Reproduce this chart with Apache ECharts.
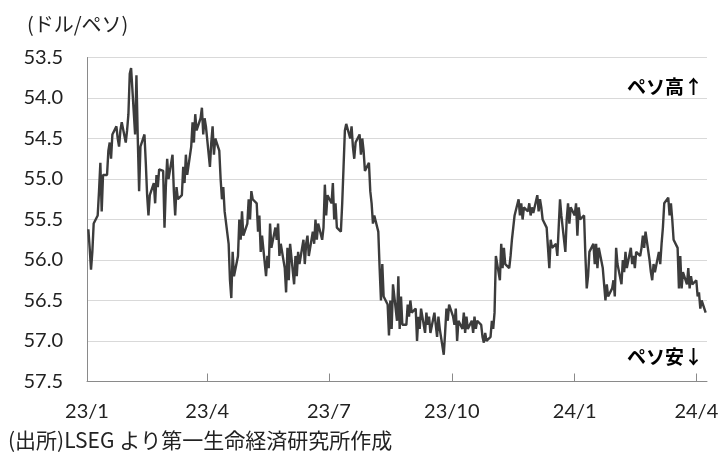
<!DOCTYPE html>
<html>
<head>
<meta charset="utf-8">
<script src="https://cdn.jsdelivr.net/npm/echarts@6/dist/echarts.min.js"></script>
<style>
  html, body { margin: 0; padding: 0; background: #fff; }
  #chart { width: 720px; height: 456px; }
</style>
</head>
<body>
<div id="chart"></div>
<script>
// USD/PHP closing rate, one value per weekday starting on firstTradingDay
const firstTradingDay = '2023-01-02';

const php2023Q1 = [
  55.62, 55.85, 56.12, 55.90, 55.55,
  55.45, 55.15, 54.80, 55.40, 54.95,
  54.95, 54.65, 54.55, 54.75, 54.45,
  54.35, 54.50, 54.60, 54.40, 54.30,
  54.55, 54.40, 54.20, 53.70, 53.63,
  54.45, 53.72, 54.50, 55.15, 54.60,
  54.45, 54.80, 55.20, 55.45, 55.20,
  55.05, 55.30, 54.95, 55.10, 54.88,
  54.90, 55.60, 55.10, 54.75, 55.00,
  54.70, 55.15, 55.45, 55.10, 55.25,
  55.20, 54.85, 55.05, 54.70, 54.95,
  54.60, 54.30, 54.55, 54.20, 54.40,
  54.25, 54.12, 54.45, 54.25, 54.35
];
const php2023Q2 = [
  54.85, 54.55, 54.35, 54.70, 54.50,
  54.65, 55.00, 55.25, 55.10, 55.40,
  55.80, 56.25, 56.47, 55.90, 56.20,
  55.95, 55.50, 55.75, 55.40, 55.70,
  55.55, 55.25, 55.50, 55.15, 55.25,
  55.30, 55.65, 55.45, 55.90, 55.70,
  56.20, 55.95, 56.10, 55.55, 55.85,
  55.60, 55.75, 55.55, 55.95, 55.80,
  56.10, 56.40, 55.85, 56.25, 55.80,
  56.30, 55.95, 56.20, 55.90, 56.05,
  55.75, 56.05, 55.80, 55.70, 55.95,
  55.65, 55.80, 55.50, 55.75, 55.55,
  55.75, 55.60, 55.07, 55.45, 55.20
];
const php2023Q3 = [
  55.30, 55.05, 55.50, 55.30, 55.60,
  55.65, 55.30, 54.85, 54.40, 54.32,
  54.50, 54.35, 54.60, 54.75, 54.55,
  54.45, 54.70, 54.50, 54.65, 54.90,
  54.80, 55.15, 55.30, 55.55, 55.45,
  55.65, 56.10, 56.50, 56.05, 56.45,
  56.55, 56.93, 56.50, 56.85, 56.30,
  56.75, 56.20, 56.85, 56.45, 56.80,
  56.80, 56.55, 56.70, 56.50, 56.65,
  56.60, 57.00, 56.70, 56.85, 56.60,
  56.90, 56.65, 56.80, 56.70, 56.90,
  56.65, 56.80, 56.95, 56.70, 56.85,
  57.17, 56.90, 56.60, 56.75, 56.55
];
const php2023Q4 = [
  56.70, 56.80, 56.60, 57.00, 56.75,
  56.85, 56.65, 56.90, 56.70, 56.85,
  56.75, 56.90, 56.70, 56.85, 56.75,
  56.80, 56.95, 57.02, 56.90, 57.00,
  56.95, 56.75, 56.85, 56.65, 55.95,
  56.25, 55.80, 56.10, 55.85, 56.05,
  56.10, 55.95, 55.75, 55.60, 55.45,
  55.25, 55.45, 55.30, 55.50, 55.35,
  55.40, 55.30, 55.45, 55.35, 55.42,
  55.20, 55.40, 55.25, 55.35, 55.50,
  55.60, 55.85, 56.10, 55.75, 55.85,
  55.80, 55.95, 55.60, 55.25, 55.45,
  55.90, 55.50, 55.30, 55.55, 55.35
];
const php2024Q1 = [
  55.45, 55.30, 55.70, 55.35, 55.50,
  55.45, 55.95, 56.35, 56.20, 55.90,
  55.80, 56.05, 55.80, 56.10, 55.85,
  56.10, 56.30, 56.50, 56.30, 56.45,
  56.35, 56.25, 56.45, 55.85, 56.05,
  56.30, 56.00, 56.15, 55.90, 56.10,
  55.85, 56.05, 55.95, 56.10, 55.90,
  55.95, 55.85, 55.70, 55.85, 55.65,
  56.00, 56.15, 56.25, 56.05, 56.15,
  55.90, 56.05, 55.80, 55.60, 55.30,
  55.23, 55.45, 55.30, 55.50, 55.75,
  55.85, 56.35, 55.95, 56.35, 56.15,
  56.30, 56.10, 56.35, 56.20, 56.30
];
const php2024Q2 = [
  56.25, 56.45, 56.40, 56.60, 56.50,
  56.65
];

// Date axis: quarter ticks and their labels
const axisStart = '2023-01-01';
const axisEnd = '2024-04-09';
const tickDates = ['2023-01-01', '2023-04-01', '2023-07-01', '2023-10-01', '2024-01-01', '2024-04-01'];
const tickLabels = ['23/1', '23/4', '23/7', '23/10', '24/1', '24/4'];

const MS_DAY = 86400000;
function toUTC(s) {
  const p = s.split('-').map(Number);
  return Date.UTC(p[0], p[1] - 1, p[2]);
}
function dayIndex(s) {
  return Math.round((toUTC(s) - toUTC(axisStart)) / MS_DAY);
}

const rates = [].concat(php2023Q1, php2023Q2, php2023Q3, php2023Q4, php2024Q1, php2024Q2);

// weekday calendar for the rates
const seriesData = [];
let t = toUTC(firstTradingDay);
for (let i = 0; i < rates.length; ) {
  const wd = new Date(t).getUTCDay();
  if (wd !== 0 && wd !== 6) {
    seriesData.push([Math.round((t - toUTC(axisStart)) / MS_DAY), rates[i]]);
    i++;
  }
  t += MS_DAY;
}

const tickPos = tickDates.map(dayIndex);
const axisGray = '#8a8a8a';
const numFont = 'Lato';
const jpFont = '"Noto Sans CJK JP"';

const chart = echarts.init(document.getElementById('chart'), null, { renderer: 'canvas' });
chart.setOption({
  animation: false,
  grid: { left: 87, right: 13, top: 57.5, bottom: 74.5, outerBoundsMode: 'none' },
  xAxis: {
    type: 'value',
    min: 0,
    max: dayIndex(axisEnd),
    axisLine: { onZero: false, lineStyle: { color: axisGray, width: 1 } },
    axisTick: { customValues: tickPos, inside: true, length: 8, lineStyle: { color: axisGray } },
    axisLabel: {
      customValues: tickPos,
      formatter: v => tickLabels[tickPos.indexOf(Math.round(v))] || '',
      fontSize: 20, color: '#222', fontFamily: numFont, margin: 20
    },
    splitLine: { show: false }
  },
  yAxis: {
    type: 'value',
    inverse: true,
    min: 53.5,
    max: 57.5,
    interval: 0.5,
    axisLine: { show: true, onZero: false, lineStyle: { color: axisGray, width: 1 } },
    axisTick: { show: false },
    axisLabel: { formatter: v => v.toFixed(1), fontSize: 20, color: '#222', fontFamily: numFont, margin: 24 },
    splitLine: { lineStyle: { color: '#d9d9d9', width: 1 } }
  },
  series: [{
    type: 'line',
    data: seriesData,
    showSymbol: false,
    silent: true,
    lineStyle: { color: '#3c3c3c', width: 2.4, join: 'bevel' }
  }],
  graphic: [
    { type: 'text', left: 27, top: 14, style: { text: '(ドル/ペソ)', font: '20px ' + jpFont, fill: '#222' } },
    { type: 'text', right: 17, top: 77, style: { text: 'ペソ高↑', font: 'bold 19px ' + jpFont, fill: '#000' } },
    { type: 'text', right: 17, top: 347, style: { text: 'ペソ安↓', font: 'bold 19px ' + jpFont, fill: '#000' } },
    { type: 'text', left: 8, top: 430, style: { text: '(出所)LSEG より第一生命経済研究所作成', font: '21px ' + jpFont, fill: '#222' } }
  ]
});
</script>
</body>
</html>
